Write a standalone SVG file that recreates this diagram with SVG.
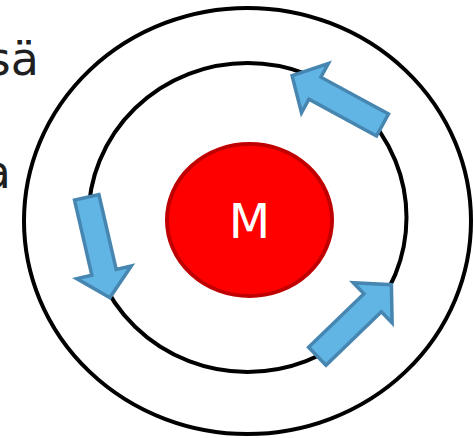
<svg xmlns="http://www.w3.org/2000/svg" width="474" height="438" viewBox="0 0 474 438">
  <defs>
    <style>
      .orbit { fill: none; stroke: #000; stroke-width: 4; }
      .side { font-family: "DejaVu Sans", Verdana, sans-serif; font-size: 46px; fill: #1f1f1f; }
      .arrow { fill: #60B5E5; stroke: #4786B0; stroke-width: 3.5; stroke-linejoin: miter; }
      .label { font-family: "DejaVu Sans", Verdana, sans-serif; font-size: 48px; fill: #fff; text-anchor: middle; }
    </style>
    <path id="blockArrow" d="M0,-12.5 L77,-12.5 L77,-28 L103,0 L77,28 L77,12.5 L0,12.5 Z"/>
  </defs>
  <rect width="474" height="438" fill="#fff"/>
  <text class="side" x="39" y="75" text-anchor="end">sä</text>
  <text class="side" x="11" y="188" text-anchor="end">a</text>
  <g id="outer-orbit">
    <ellipse class="orbit" cx="247.5" cy="221" rx="223.5" ry="213"/>
  </g>
  <g id="inner-orbit">
    <ellipse class="orbit" cx="247.5" cy="217.5" rx="159" ry="154.5"/>
  </g>
  <g id="mass">
    <ellipse cx="249.5" cy="220" rx="82.5" ry="76" fill="#FF0000" stroke="#C00000" stroke-width="4"/>
    <text class="label" x="249.5" y="238">M</text>
  </g>
  <g id="connectors">
    <use href="#blockArrow" class="arrow" transform="translate(382.5,125) rotate(208.6)"/>
    <use href="#blockArrow" class="arrow" transform="translate(86.7,197.3) rotate(77)"/>
    <use href="#blockArrow" class="arrow" transform="translate(317.3,356.3) rotate(-44)"/>
  </g>
</svg>
